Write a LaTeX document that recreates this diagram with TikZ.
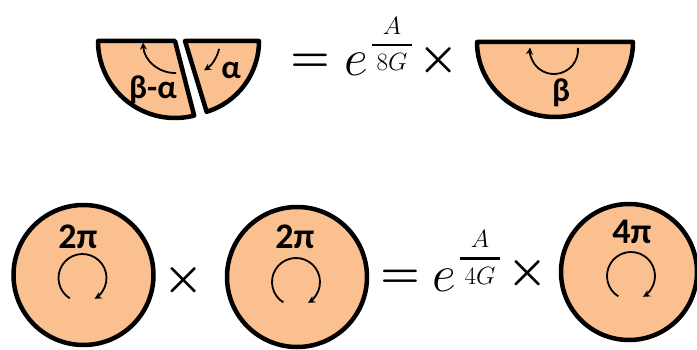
\documentclass[tikz,border=0pt]{standalone}
\usepackage{fix-cm}
\usepackage{amsmath}
\usepackage{fontspec}
\setsansfont{Carlito}
\usetikzlibrary{arrows.meta}
\definecolor{PeachFill}{HTML}{FAC090}

\begin{document}
\begin{tikzpicture}[x=1pt, y=1pt,
  piece/.style={draw=black, line width=4.5pt, fill=PeachFill, line join=round},
  disk/.style={circle, draw=black, line width=4.5pt, fill=PeachFill, inner sep=0pt},
  turn/.style={-{Stealth[length=7pt,width=7pt]}, line width=1.8pt},
  lbl/.style={font=\sffamily\bfseries\fontsize{33}{36}\selectfont, inner sep=0pt},
  biglbl/.style={font=\sffamily\bfseries\fontsize{36}{40}\selectfont, inner sep=0pt},
  op/.style={font=\boldmath\fontsize{45}{50}\selectfont, inner sep=0pt},
  base/.style={font=\fontsize{52}{58}\selectfont, inner sep=0pt, anchor=base},
  expo/.style={font=\fontsize{25}{28}\selectfont, inner sep=0pt}
]
\useasboundingbox (0,0) rectangle (697,349);

% top row: split half disk
\draw[piece] (175,308) -- ++(180:77) arc[start angle=180, end angle=284.4, radius=77] -- cycle;
\draw[piece] (185,308) -- ++(-73:74) arc[start angle=-73, end angle=0, radius=74] -- cycle;
\draw[turn] (175,308) ++(-88:32) arc[start angle=-88, end angle=-177, radius=32];
\draw[turn] (185,308) ++(-13:35) arc[start angle=-13, end angle=-57, radius=35];
\node[lbl] (ba) at (153,259) {β-α};
\node[lbl] (al) at (231,279) {α};

\node[op] (eq1) at (310,286) {$=$};
\node[base] (e1) at (356,273) {$e$};
\node[expo] (f1) at (392,305) {$\genfrac{}{}{2.5pt}{0}{A}{\mkern3mu 8G\mkern3mu}$};
\node[op] (x1) at (439,289) {$\times$};

% top row: whole half disk
\draw[piece] (477,307) arc[x radius=78, y radius=75, start angle=180, end angle=360] -- cycle;
\draw[turn] (554,299) ++(5:24) arc[start angle=5, end angle=-186, radius=24];
\node[lbl] (be) at (561,256) {β};

% bottom row: full disks
\node[disk, minimum size=140pt] (c1) at (83.5,74) {};
\node[disk, minimum size=140pt] (c2) at (297,72) {};
\node[disk, minimum size=136pt] (c3) at (629,77) {};
\node[biglbl] (t1) at (78,112) {2π};
\node[biglbl] (t2) at (295,112) {2π};
\node[biglbl] (t3) at (632,117) {4π};
\draw[turn] (82.5,71) ++(238:24) arc[start angle=238, end angle=-60, radius=24];
\draw[turn] (296,67) ++(238:24) arc[start angle=238, end angle=-60, radius=24];
\draw[turn] (631,73) ++(238:24) arc[start angle=238, end angle=-60, radius=24];

\node[op] (x2) at (184,69) {$\times$};
\node[op] (eq2) at (400,70) {$=$};
\node[base] (e2) at (444,58) {$e$};
\node[expo] (f2) at (480,91.5) {$\genfrac{}{}{2.5pt}{0}{A}{\mkern3mu 4G\mkern3mu}$};
\node[op] (x3) at (527.5,76) {$\times$};
\end{tikzpicture}
\end{document}
